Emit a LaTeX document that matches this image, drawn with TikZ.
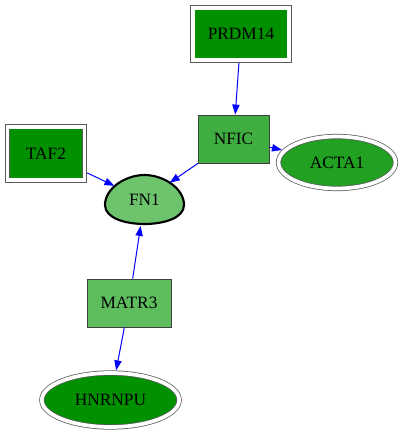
\documentclass[tikz,border=0pt]{standalone}
\usepackage{fontspec}
\setmainfont{Liberation Serif}
\usetikzlibrary{arrows.meta,shapes.geometric}
\definecolor{gdark}{RGB}{0,144,0}
\definecolor{gnfic}{RGB}{64,173,64}
\definecolor{gacta}{RGB}{34,160,34}
\definecolor{gfn}{RGB}{109,196,109}
\definecolor{gmatr}{RGB}{94,190,94}
\definecolor{gedge}{RGB}{0,0,255}
\begin{document}
\begin{tikzpicture}[x=0.75pt,y=-0.75pt,
  every node/.style={font=\fontsize{13}{15}\selectfont, inner sep=0pt},
  box/.style={rectangle, draw=black!75, line width=0.6pt},
  framed/.style={draw=black!65, line width=0.55pt, double=white, double distance=2.8pt, outer sep=2pt},
  oval/.style={ellipse},
  edge/.style={draw=gedge, line width=0.75pt, -{Triangle[length=7.5pt,width=5.5pt]}}]
\useasboundingbox (0,0) rectangle (403,435);

% nodes
\node[box, framed, fill=gdark, minimum width=72.4pt, minimum height=39.4pt] (prdm) at (241,34) {PRDM14};
\node[box, framed, fill=gdark, minimum width=57.75pt, minimum height=40pt] (taf) at (46,153.5) {TAF2};
\node[box, fill=gnfic, minimum width=53.25pt, minimum height=36pt] (nfic) at (233.5,139) {NFIC};
\node[box, fill=gmatr, minimum width=63pt, minimum height=36pt] (matr) at (129,303) {MATR3};
\node[oval, framed, fill=gacta, minimum width=87.75pt, minimum height=39pt] (acta) at (337,162.5) {ACTA1};
\node[oval, framed, fill=gdark, minimum width=103pt, minimum height=40.5pt] (hnrn) at (110.5,400) {HNRNPU};

% FN1 egg shape
\draw[fill=gfn, line width=1.6pt, draw=black]
  (105,205) .. controls (105,218) and (125,224) .. (144.5,224)
  .. controls (164,224) and (184,218) .. (184,205)
  .. controls (184,188) and (163,175) .. (144.5,175)
  .. controls (126,175) and (105,188) .. (105,205) -- cycle;
\node[oval, minimum width=60pt, minimum height=37pt, outer sep=1pt] (fn) at (144.5,200) {FN1};

% edges
\draw[edge] (prdm) -- (nfic);
\draw[edge, shorten >=-2.5pt] (taf) -- (fn);
\draw[edge, shorten >=-2.5pt] (nfic) -- (fn);
\draw[edge] (nfic) -- (acta);
\draw[edge] (matr) -- (fn);
\draw[edge] (matr) -- (hnrn);
\end{tikzpicture}
\end{document}
